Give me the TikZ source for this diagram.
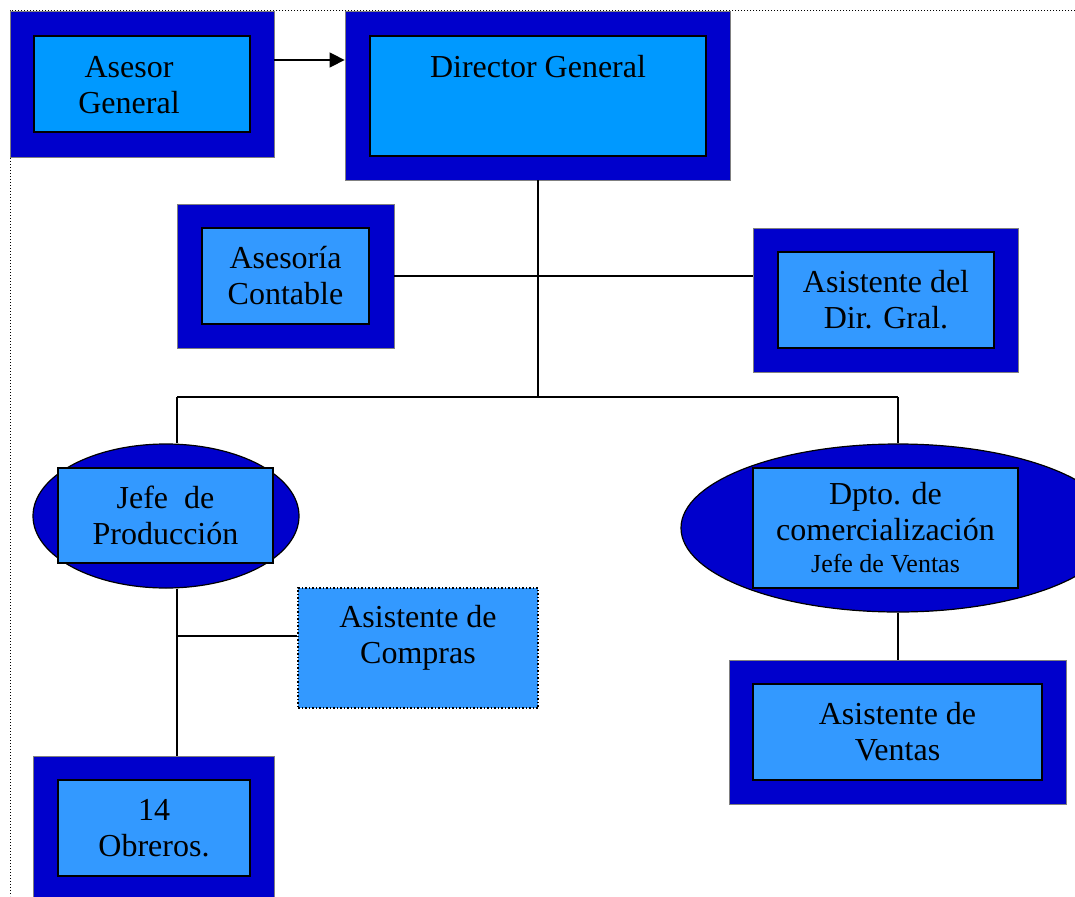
\documentclass[tikz,border=0pt]{standalone}
\usepackage{fontspec}
\setmainfont{Liberation Serif}
\usetikzlibrary{positioning, arrows.meta, shapes.geometric}

\definecolor{darkblue}{HTML}{0000CC}
\definecolor{skyblue}{HTML}{0099FF}
\definecolor{midblue}{HTML}{3399FF}

\tikzset{
  outerbox/.style={draw=gray, fill=darkblue, inner sep=0pt, line width=0.8pt},
  innerbox/.style={draw=black, fill=midblue, inner sep=0pt, line width=1.5pt,
    align=center, font=\fontsize{32}{36}\selectfont},
  oval/.style={ellipse, draw=black, fill=darkblue, inner sep=0pt, line width=1.2pt},
  txt/.style={align=center, inner sep=0pt, font=\fontsize{32}{36}\selectfont},
  link/.style={draw=black, line width=1.5pt}
}

\begin{document}
\begin{tikzpicture}[x=1pt, y=-1pt]
\useasboundingbox (0,0) rectangle (1075,896);
\clip (0,0) rectangle (1075,896);
% dotted page frame
\draw[dotted, line width=1pt] (1075,11) -- (10,11) -- (10,896);

% Asesor General
\node[outerbox, minimum width=264pt, minimum height=146pt] (agO) at (142,84) {};
\node[innerbox, fill=skyblue, minimum width=216pt, minimum height=96pt] (ag) at (142,84) {};
\node[txt] (agT) at (129,85) {Asesor\\General};

% Director General
\node[outerbox, minimum width=385pt, minimum height=169pt] (dgO) at (537.5,95.5) {};
\node[innerbox, fill=skyblue, minimum width=336pt, minimum height=120pt] (dg) at (538,96) {};
\node[txt] (dgT) at (538,67) {Director General};

% Asesoria Contable
\node[outerbox, minimum width=217pt, minimum height=144pt] (acO) at (285.5,276) {};
\node[innerbox, minimum width=167pt, minimum height=96pt] (ac) at (285.5,276) {Asesoría\\Contable};

% Asistente del Dir. Gral.
\node[outerbox, minimum width=265pt, minimum height=144pt] (adO) at (885.5,300) {};
\node[innerbox, minimum width=216pt, minimum height=96pt] (ad) at (886,300) {Asistente del\\Dir. Gral.};

% Jefe de Produccion
\node[oval, minimum width=266pt, minimum height=144pt] (jp) at (166,516) {};
\node[innerbox, minimum width=215pt, minimum height=95pt] (jpB) at (165.5,515.5) {Jefe~ de\\Producción};

% Dpto. de comercializacion
\node[oval, minimum width=434pt, minimum height=168pt] (dc) at (898,528) {};
\node[innerbox, minimum width=265pt, minimum height=120pt] (dcB) at (885.5,528)
  {Dpto. de\\comercialización\\[-4pt]{\fontsize{26}{30}\selectfont Jefe de Ventas}};

% Asistente de Compras
\node[draw=black, dotted, line width=1.5pt, fill=midblue, minimum width=240pt, minimum height=120pt] (cp) at (418,648) {};
\node[txt] (cpT) at (418,638) {Asistente de\\Compras};

% Asistente de Ventas
\node[outerbox, minimum width=337pt, minimum height=144pt] (avO) at (897.5,732) {};
\node[innerbox, minimum width=289pt, minimum height=96pt] (av) at (897.5,732) {Asistente de\\Ventas};

% 14 Obreros
\node[outerbox, minimum width=241pt, minimum height=144pt] (obO) at (153.5,828) {};
\node[innerbox, minimum width=192pt, minimum height=96pt] (ob) at (154,828) {14\\Obreros.};

% connectors
\coordinate (arr) at (0,60);
\coordinate (jc) at (538,397);
\coordinate (hL) at (177,397);
\coordinate (hR) at (898,397);
\coordinate (bc) at (177,636);
\draw[link, -{Triangle[length=15pt, width=15pt]}] (agO.east |- arr) -- (dgO.west |- arr);
\draw[link] (dgO.south -| jc) -- (jc);
\draw[link] (acO.east) -- (adO.west |- acO.east);
\draw[link] (hL) -- (hR);
\draw[link] (hL) -- (hL |- jp.north);
\draw[link] (hR) -- (dc.north);
\draw[link] (hL |- jp.south) -- (hL |- obO.north);
\draw[link] (bc) -- (cp.west |- bc);
\draw[link] (dc.south) -- (avO.north -| dc.south);
\end{tikzpicture}
\end{document}
